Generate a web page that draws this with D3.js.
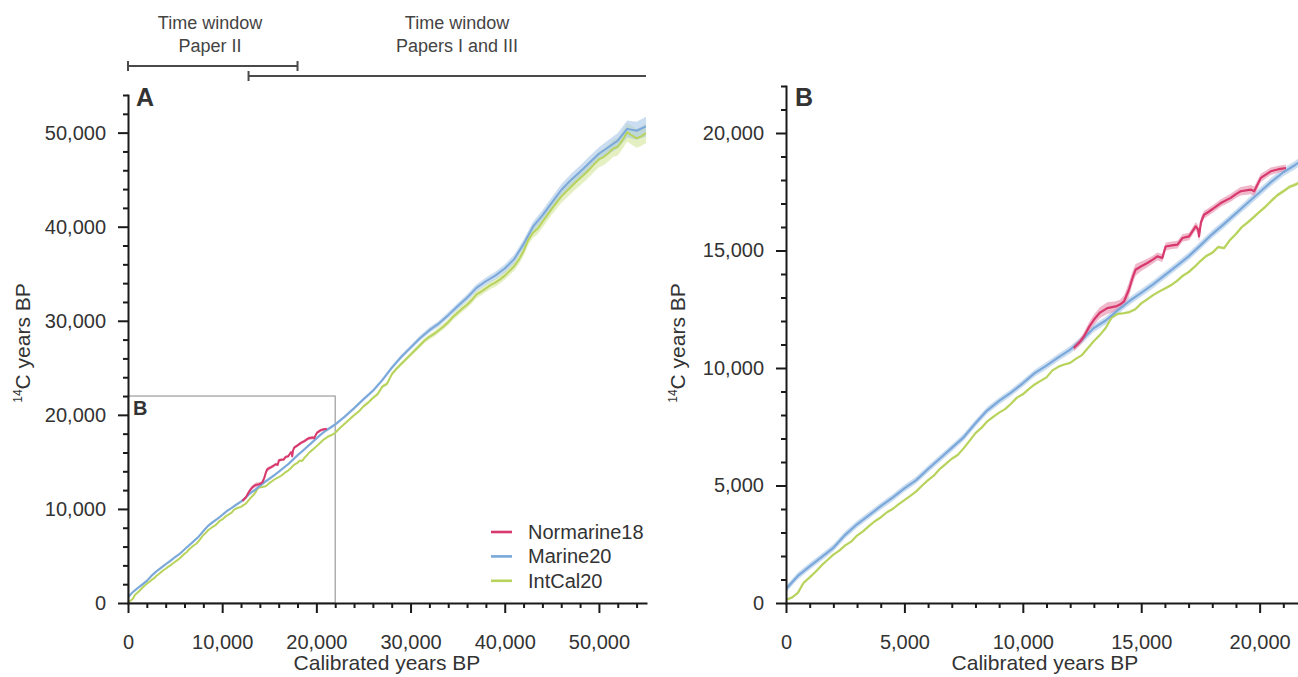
<!DOCTYPE html>
<html><head><meta charset="utf-8">
<script src="https://cdn.jsdelivr.net/npm/d3@7/dist/d3.min.js"></script>
<style>
body{margin:0;background:#fff}
svg{display:block;font-family:"Liberation Sans",Arial,Helvetica,sans-serif}
</style>
</head><body>
<svg id="chart" width="1298" height="677"></svg>
<script>
// ---------------- DATA ----------------
const seriesNames = ["Normarine18", "Marine20", "IntCal20"];

// Marine20 (cal BP -> 14C BP)
const marineCal = [0,500,1000,1500,2000,2500,3000,3500,4000,4500,5000,5500,6000,6500,7000,7500,8000,8500,9000,9500,
  10000,10500,11000,11500,12000,12500,13000,13500,14000,14500,15000,15500,16000,16500,17000,17500,18000,18500,19000,19500,
  20000,20500,21000,21500,22000,23000,24000,25000,26000,27000,28000,29000,30000,31000,32000,33000,34000,35000,36000,37000,
  38000,39000,40000,41000,42000,43000,44000,45000,46000,47000,48000,49000,50000,51000,52000,53000,54000,55000];
const marineC14 = [600,1150,1560,1950,2350,2900,3350,3730,4120,4480,4880,5230,5700,6150,6600,7050,7650,8200,8600,8950,
  9350,9780,10100,10450,10780,11200,11700,12020,12450,12850,13200,13560,13950,14350,14750,15220,15700,16130,16580,17030,
  17480,17930,18330,18640,18980,19800,20700,21650,22550,23700,25000,26150,27150,28150,29000,29700,30600,31550,32450,33500,
  34200,34800,35550,36550,38150,40000,41200,42550,43900,44950,45850,46800,47750,48450,49150,50400,50200,50650];
const marineErr = [150,150,150,150,150,150,150,150,150,150,150,150,150,150,150,150,150,150,150,150,
  150,150,155,155,160,160,165,165,165,165,165,165,165,165,170,170,170,170,170,175,
  175,175,175,180,180,180,190,200,210,220,240,250,260,280,300,310,330,350,370,390,
  400,420,440,470,500,520,550,580,600,620,650,680,700,760,820,880,950,1050];

// IntCal20 (cal BP -> 14C BP)
const intcalCal = [0,250,500,750,1000,1250,1500,1750,2000,2250,2500,2750,3000,3250,3500,3750,4000,4250,4500,4750,
  5000,5250,5500,5750,6000,6250,6500,6750,7000,7250,7500,7750,8000,8250,8500,8750,9000,9250,9500,9750,
  10000,10250,10500,10750,11000,11250,11500,11750,12000,12250,12500,12750,13000,13250,13500,13750,14000,14250,14500,14750,
  15000,15250,15500,15750,16000,16250,16500,16750,17000,17250,17500,17750,18000,18250,18500,18750,19000,19250,19500,19750,
  20000,20250,20500,20750,21000,21250,21500,21750,22000,22500,23000,23500,24000,24500,25000,25500,26000,26500,27000,27500,
  28000,28500,29000,29500,30000,30500,31000,31500,32000,32500,33000,33500,34000,34500,35000,35500,36000,36500,37000,37500,
  38000,38500,39000,39500,40000,40500,41000,41500,42000,42500,43000,43500,44000,44500,45000,45500,46000,46500,47000,47500,
  48000,48500,49000,49500,50000,50500,51000,51500,52000,52500,53000,53500,54000,54500,55000];
const intcalC14 = [130,230,430,870,1090,1330,1600,1830,2060,2230,2450,2610,2870,3050,3270,3480,3640,3850,4000,4200,
  4380,4560,4750,5000,5230,5430,5710,5920,6140,6300,6580,6900,7230,7450,7730,7920,8100,8250,8480,8740,
  8880,9100,9300,9450,9600,9900,10050,10150,10220,10400,10550,10850,11150,11400,11700,12150,12300,12330,12380,12500,
  12750,12920,13100,13250,13380,13520,13700,13920,14080,14300,14550,14770,14900,15150,15100,15450,15700,16000,16200,16420,
  16650,16870,17120,17350,17520,17700,17800,17930,18100,18600,19050,19500,19950,20350,20900,21300,21800,22200,23000,23300,
  24300,24900,25400,25900,26400,26900,27400,27900,28300,28600,29000,29400,29850,30400,30850,31300,31700,32200,32800,33100,
  33450,33800,34050,34400,34800,35300,35800,36500,37400,38600,39350,39800,40500,41200,41900,42550,43200,43700,44200,44700,
  45150,45600,46100,46650,47150,47400,47800,48300,48500,49200,50050,49700,49400,49600,49950];
const intcalErr = [20,20,20,20,20,20,20,20,20,20,20,20,20,20,20,20,20,20,20,20,
  20,20,20,20,20,20,20,20,20,20,20,20,20,20,20,20,20,20,20,20,
  25,25,25,25,25,30,30,30,30,30,35,35,35,40,40,40,40,45,45,45,
  45,50,50,50,50,50,55,55,55,55,60,60,60,60,60,65,65,65,65,70,
  70,70,70,75,75,75,80,80,80,90,100,110,120,130,140,150,160,170,180,190,
  200,210,220,230,240,250,260,270,280,290,300,310,320,330,340,350,360,370,380,390,
  400,410,420,430,440,460,480,500,520,540,560,580,600,620,640,660,680,700,720,740,
  760,780,800,820,840,860,880,900,920,940,960,980,1000,1020,1040];

// Normarine18 (cal BP -> 14C BP)
const normCal = [12150,12400,12580,12800,13000,13250,13565,13920,14100,14270,14480,14620,14760,15000,15260,15500,15680,15890,16030,16300,
  16530,16740,17020,17300,17400,17440,17520,17650,17850,18080,18360,18780,19000,19200,19630,19770,20050,20470,20800,21110];
const normC14 = [10850,11100,11340,11750,12050,12350,12550,12620,12700,12830,13330,13800,14180,14330,14470,14620,14750,14680,15170,15220,
  15250,15530,15600,16030,15900,15600,16200,16520,16650,16810,17020,17240,17400,17520,17590,17520,18090,18370,18460,18510];
const normErr = [150,150,180,200,220,230,250,220,200,250,300,280,250,200,180,170,170,170,170,160,
  160,160,160,170,200,250,200,170,160,160,160,170,170,180,200,200,180,160,150,150];

// Axis tick labels
const aXTicks = [0,10000,20000,30000,40000,50000];
const aYTicks = [0,10000,20000,30000,40000,50000];
const bXTicks = [0,5000,10000,15000,20000];
const bYTicks = [0,5000,10000,15000,20000];

// Time-window annotations (cal BP)
const windowLabels = [["Time window","Paper II"],["Time window","Papers I and III"]];
const windowStart = [0, 12800];
const windowEnd = [18000, 55000];

// ---------------- STYLE ----------------
const COLORS = {"Normarine18":"#d8386c","Marine20":"#7aa8da","IntCal20":"#b8d35c"};
const BANDCOL = {"Normarine18":"#e48aa8","Marine20":"#a9c6e6","IntCal20":"#d2e49a"};
const TEXT = "#333";
const AXIS = "#1a1a1a";

function zip(cal, c14, err){ return cal.map((c,i)=>({x:c, y:c14[i], e:err[i]})); }
const series = {
  "IntCal20": zip(intcalCal, intcalC14, intcalErr),
  "Marine20": zip(marineCal, marineC14, marineErr),
  "Normarine18": zip(normCal, normC14, normErr)
};

const svg = d3.select("#chart");
const fmt = d3.format(",");

function drawPanel(o){
  const g = svg.append("g");
  const x = d3.scaleLinear().domain(o.xDom).range(o.xRange);
  const y = d3.scaleLinear().domain(o.yDom).range(o.yRange);
  const clipId = "clip" + o.id;
  svg.append("clipPath").attr("id", clipId).append("rect")
    .attr("x", o.xRange[0]).attr("y", o.yRange[1])
    .attr("width", o.xRange[1]-o.xRange[0]).attr("height", o.yRange[0]-o.yRange[1]);

  if (o.box) {
    g.append("rect").attr("x", x(0)).attr("y", y(o.box))
      .attr("width", x(o.box)-x(0)).attr("height", y(0)-y(o.box))
      .attr("fill","none").attr("stroke","#9c9c9c").attr("stroke-width",1.2);
  }

  const dg = g.append("g").attr("clip-path", `url(#${clipId})`);
  const area = d3.area().x(d=>x(d.x)).y0(d=>y(d.y-d.e)).y1(d=>y(d.y+d.e)).curve(d3.curveLinear);
  const line = d3.line().x(d=>x(d.x)).y(d=>y(d.y)).curve(d3.curveLinear);
  ["IntCal20","Marine20","Normarine18"].forEach(k=>{
    dg.append("path").datum(series[k]).attr("d", area)
      .attr("fill", BANDCOL[k]).attr("opacity", o.bandOpacity);
  });
  ["IntCal20","Marine20","Normarine18"].forEach(k=>{
    dg.append("path").datum(series[k]).attr("d", line)
      .attr("fill","none").attr("stroke", COLORS[k]).attr("stroke-width", o.lw)
      .attr("stroke-linejoin","round");
  });

  // axes
  const styleAxis = s => {
    s.attr("font-size", null).attr("font-family", null).attr("color", AXIS);
    s.selectAll("line").attr("stroke-width", 2);
    s.selectAll(".domain").attr("stroke-width", 2).attr("stroke-linecap","square");
    s.selectAll("text").style("font-size","20px").attr("fill", TEXT);
  };
  const xMinor = d3.range(0, o.xDom[1]+1, o.xMinorStep).filter(v=>!o.xTicks.includes(v));
  const yMinor = d3.range(0, o.yDom[1]+1, o.yMinorStep).filter(v=>!o.yTicks.includes(v));

  g.append("g").attr("transform",`translate(0,${y(0)})`)
    .call(d3.axisBottom(x).tickValues(xMinor).tickSize(5).tickFormat("").tickSizeOuter(0))
    .call(styleAxis).call(s=>s.select(".domain").remove());
  g.append("g").attr("transform",`translate(0,${y(0)})`)
    .call(d3.axisBottom(x).tickValues(o.xTicks).tickSize(10).tickFormat(fmt).tickSizeOuter(0))
    .call(styleAxis)
    .call(s=>s.selectAll("text").attr("y", 46).attr("dy", 0));

  g.append("g").attr("transform",`translate(${x(0)},0)`)
    .call(d3.axisLeft(y).tickValues(yMinor).tickSize(5).tickFormat("").tickSizeOuter(0))
    .call(styleAxis).call(s=>s.select(".domain").remove());
  g.append("g").attr("transform",`translate(${x(0)},0)`)
    .call(d3.axisLeft(y).tickValues(o.yTicks).tickSize(10).tickFormat(fmt).tickSizeOuter(0))
    .call(styleAxis)
    .call(s=>s.selectAll("text").attr("x", -22));

  // titles
  g.append("text").attr("x", o.xTitleX).attr("y", 670).attr("text-anchor","middle")
    .attr("font-size", 21).attr("fill", TEXT).text("Calibrated years BP");
  const yt = g.append("text").attr("transform", `translate(${o.yTitleX},343) rotate(-90)`)
    .attr("text-anchor","middle").attr("font-size", 21).attr("fill", TEXT);
  yt.append("tspan").attr("font-size", 12).attr("dy", -8).text("14");
  yt.append("tspan").attr("dy", 8).text("C years BP");

  g.append("text").attr("x", o.letterX).attr("y", 106).attr("font-size", 25)
    .attr("font-weight","bold").attr("fill", TEXT).text(o.letter);

  return {x, y, g};
}

const A = drawPanel({id:"A", xDom:[0,55000], xRange:[128,646], yDom:[0,54000], yRange:[603,95],
  xTicks:aXTicks, yTicks:aYTicks, xMinorStep:2000, yMinorStep:2000, lw:2, bandOpacity:0.6,
  box:22000, xTitleX:387, yTitleX:30, letter:"A", letterX:136});

const B = drawPanel({id:"B", xDom:[0,22000], xRange:[786,1307], yDom:[0,22000], yRange:[603,86],
  xTicks:bXTicks, yTicks:bYTicks, xMinorStep:1000, yMinorStep:1000, lw:2.2, bandOpacity:0.6,
  box:null, xTitleX:1045, yTitleX:685, letter:"B", letterX:795});

// small "B" inside the panel-A box
A.g.append("text").attr("x", 133).attr("y", A.y(22000)+19).attr("font-size", 20)
  .attr("font-weight","bold").attr("fill", TEXT).text("B");

// legend
const leg = A.g.append("g");
seriesNames.forEach((n,i)=>{
  const yy = 532 + i*24.4;
  leg.append("line").attr("x1",491).attr("x2",512).attr("y1",yy).attr("y2",yy)
    .attr("stroke", COLORS[n]).attr("stroke-width", 2.6);
  leg.append("text").attr("x",528).attr("y",yy+7).attr("font-size",20).attr("fill",TEXT).text(n);
});

// time windows
const tw = svg.append("g").attr("stroke","#4a4a4a").attr("stroke-width",1.8);
const barY = [66, 76];
windowStart.forEach((s,i)=>{
  const x0 = A.x(s), x1 = A.x(windowEnd[i]);
  tw.append("line").attr("x1",x0).attr("x2",x1).attr("y1",barY[i]).attr("y2",barY[i]);
  tw.append("line").attr("x1",x0).attr("x2",x0).attr("y1",barY[i]-5).attr("y2",barY[i]+5).attr("stroke-width",2);
  if (i===0) tw.append("line").attr("x1",x1).attr("x2",x1).attr("y1",barY[i]-5).attr("y2",barY[i]+5).attr("stroke-width",2);
});
const labelX = [210, 457];
windowLabels.forEach((lines,i)=>{
  lines.forEach((t,j)=>{
    svg.append("text").attr("x", labelX[i]).attr("y", 29 + j*23).attr("text-anchor","middle")
      .attr("font-size",18).attr("fill","#444").text(t);
  });
});
</script>
</body></html>
